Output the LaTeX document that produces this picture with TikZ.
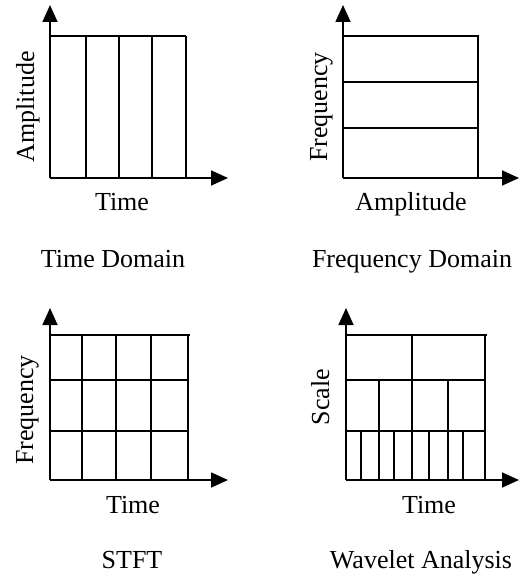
\documentclass[tikz,border=0pt]{standalone}
\usepackage{fontspec}
\setmainfont{Liberation Serif}
\usetikzlibrary{arrows.meta}
\begin{document}
\begin{tikzpicture}[x=1pt,y=-1pt,
  gridline/.style={line width=1.7pt},
  axis/.style={line width=1.7pt, -{Triangle[length=17pt,width=15pt]}},
  lbl/.style={font=\fontsize{26}{30}\selectfont, inner sep=0pt, anchor=base},
  vlbl/.style={lbl, rotate=90}]
\useasboundingbox (0,0) rectangle (519,577);

% ---- Time domain ----
\coordinate (o1) at (50,178);
\coordinate (y1) at (50,5);
\coordinate (x1) at (228,178);
\draw[gridline] (50,36) -- (186,36);
\foreach \x in {86,119,152,186} \draw[gridline] (\x,36) -- (\x,178);
\draw[axis] (o1) -- (y1);
\draw[axis] (o1) -- (x1);
\node[vlbl] (a1) at (34,107) {Amplitude};
\node[lbl] (t1) at (122,211) {Time};
\node[lbl] (c1) at (113,267) {Time Domain};

% ---- Frequency domain ----
\coordinate (o2) at (343,178);
\coordinate (y2) at (343,5);
\coordinate (x2) at (519,178);
\draw[gridline] (343,36) -- (478,36) -- (478,178);
\foreach \y in {82,128} \draw[gridline] (343,\y) -- (478,\y);
\draw[axis] (o2) -- (y2);
\draw[axis] (o2) -- (x2);
\node[vlbl] (a2) at (327,107) {Frequency};
\node[lbl] (t2) at (411,211) {Amplitude};
\node[lbl] (c2) at (412,267) {Frequency Domain};

% ---- STFT ----
\coordinate (o3) at (50,480);
\coordinate (y3) at (50,308);
\coordinate (x3) at (228,480);
\draw[gridline] (50,335) -- (190,335);
\foreach \y in {380,431} \draw[gridline] (50,\y) -- (188,\y);
\foreach \x in {82,116,151,188} \draw[gridline] (\x,335) -- (\x,480);
\draw[axis] (o3) -- (y3);
\draw[axis] (o3) -- (x3);
\node[vlbl] (a3) at (33,410) {Frequency};
\node[lbl] (t3) at (133,513) {Time};
\node[lbl] (c3) at (132,568) {STFT};

% ---- Wavelet analysis ----
\coordinate (o4) at (346,480);
\coordinate (y4) at (346,308);
\coordinate (x4) at (519,480);
\draw[gridline] (346,335) -- (487,335);
\foreach \y in {380,431} \draw[gridline] (346,\y) -- (485,\y);
\draw[gridline] (485,335) -- (485,480);
\draw[gridline] (412,335) -- (412,480);
\foreach \x in {379,448} \draw[gridline] (\x,380) -- (\x,480);
\foreach \x in {361,394,429,463} \draw[gridline] (\x,431) -- (\x,480);
\draw[axis] (o4) -- (y4);
\draw[axis] (o4) -- (x4);
\node[vlbl] (a4) at (329,397) {Scale};
\node[lbl] (t4) at (429,513) {Time};
\node[lbl] (c4) at (421,568) {Wavelet Analysis};
\end{tikzpicture}
\end{document}
